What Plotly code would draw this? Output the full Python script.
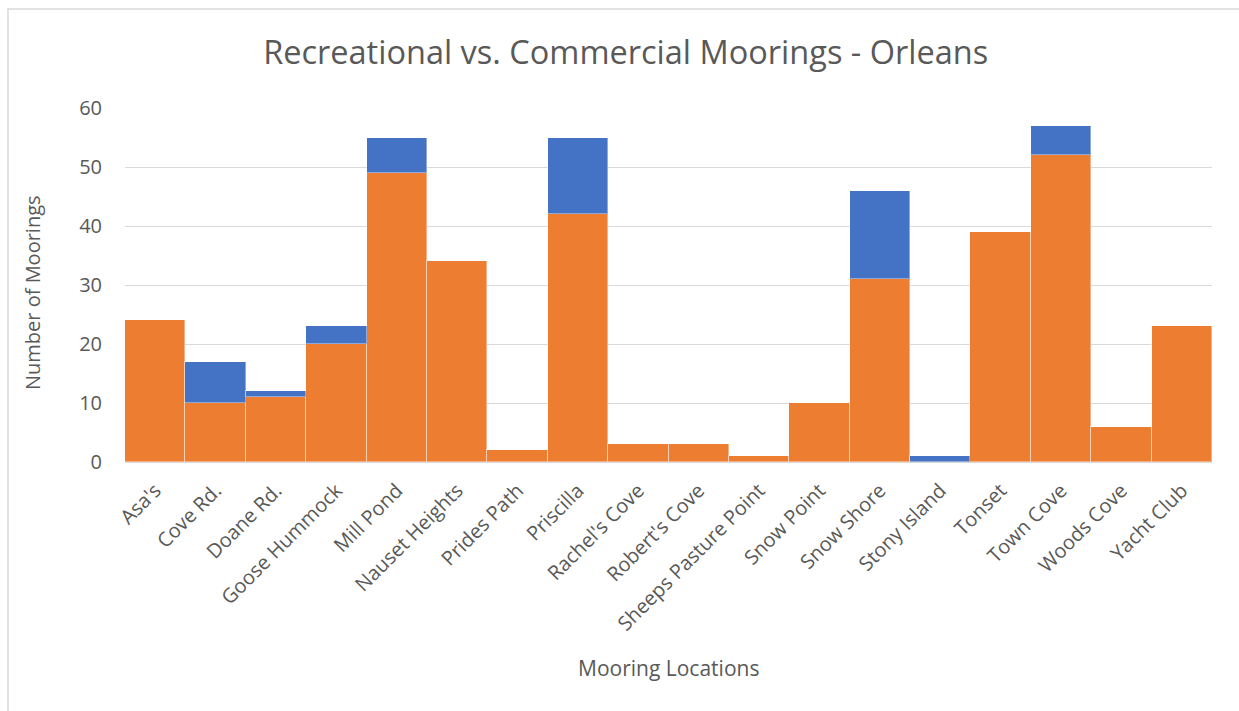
import plotly.graph_objects as go

locations = ["Asa's", "Cove Rd.", "Doane Rd.", "Goose Hummock", "Mill Pond", "Nauset Heights",
             "Prides Path", "Priscilla", "Rachel's Cove", "Robert's Cove", "Sheeps Pasture Point",
             "Snow Point", "Snow Shore", "Stony Island", "Tonset", "Town Cove", "Woods Cove", "Yacht Club"]
recreational = [24, 10, 11, 20, 49, 34, 2, 42, 3, 3, 1, 10, 31, 0, 39, 52, 6, 23]
commercial = [0, 7, 1, 3, 6, 0, 0, 13, 0, 0, 0, 0, 15, 1, 0, 5, 0, 0]

FONT = "Open Sans"
GREY = "#595959"

fig = go.Figure()
fig.add_trace(go.Bar(x=locations, y=recreational, name="Recreational",
                     marker=dict(color="#ED7D31", line=dict(color="rgba(255,255,255,0.4)", width=1))))
fig.add_trace(go.Bar(x=locations, y=commercial, name="Commercial",
                     marker=dict(color="#4472C4", line=dict(color="rgba(255,255,255,0.4)", width=1))))

fig.update_layout(
    width=1239, height=711,
    barmode="stack", bargap=0,
    showlegend=False,
    plot_bgcolor="white", paper_bgcolor="white",
    margin=dict(l=125, r=27, t=108, b=249),
    font=dict(family=FONT, color=GREY, size=20),
    title=dict(text="Recreational vs. Commercial Moorings - Orleans",
               font=dict(family=FONT, size=32.5, color=GREY),
               x=0.505, xanchor="center", y=1 - 53 / 711, yanchor="middle"),
    xaxis=dict(tickangle=-45, tickfont=dict(size=20, color=GREY), showgrid=False,
               showline=True, linecolor="#d9d9d9", linewidth=1, ticks="", ticklabelstandoff=8),
    yaxis=dict(range=[0, 60], dtick=10, tickfont=dict(size=20, color=GREY),
               gridcolor="#d9d9d9", gridwidth=1, zeroline=False, ticks="", ticklabelstandoff=22),
    annotations=[
        dict(text="Mooring Locations", xref="paper", yref="paper", x=(668 - 125) / 1087,
             y=(462 - 668) / 354, showarrow=False, font=dict(family=FONT, size=21, color=GREY),
             xanchor="center", yanchor="middle"),
        dict(text="Number of Moorings", xref="paper", yref="paper", x=(32 - 125) / 1087,
             y=(462 - 293) / 354, showarrow=False, textangle=-90,
             font=dict(family=FONT, size=20, color=GREY), xanchor="center", yanchor="middle"),
    ],
    shapes=[dict(type="rect", xref="paper", yref="paper",
                 x0=(8 - 125) / 1087, x1=(1260 - 125) / 1087,
                 y0=(462 - 740) / 354, y1=(462 - 9) / 354,
                 line=dict(color="#d9d9d9", width=1.5), layer="below")],
)

fig.write_html("out.html")
